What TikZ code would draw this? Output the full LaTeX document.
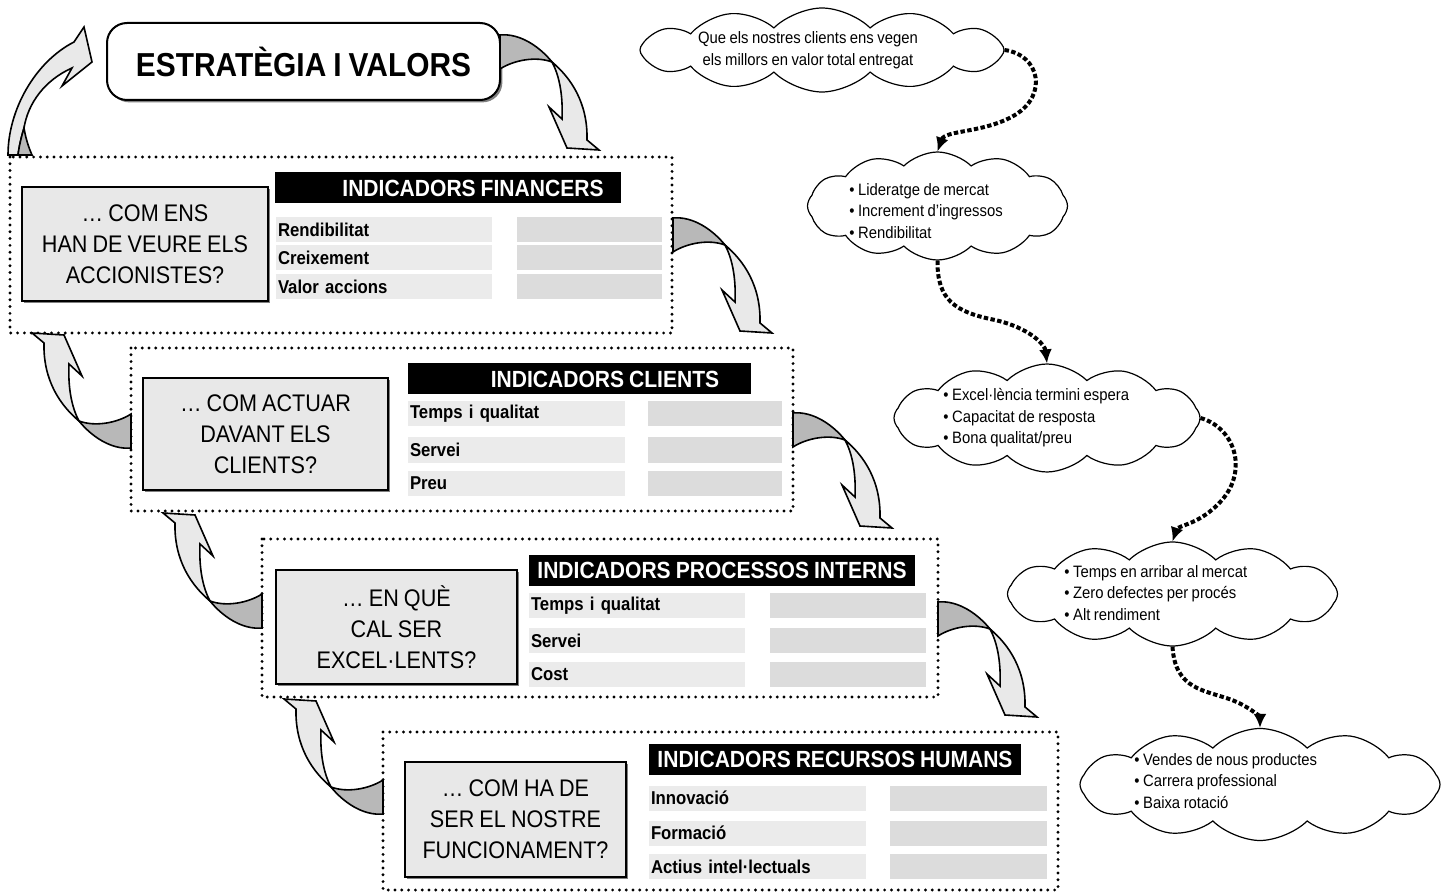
\documentclass[tikz,border=0pt]{standalone}
\usepackage{fontspec}
\setmainfont{Liberation Sans}[FakeStretch=0.9,WordSpace=0.85]
\usepackage{xcolor}
\usepackage{tikz}
\usetikzlibrary{positioning}
\usetikzlibrary{shapes.symbols}
\usetikzlibrary{shadows}
\usetikzlibrary{arrows.meta}

\definecolor{boxgray}{HTML}{E8E8E8}
\definecolor{cellgray}{HTML}{EBEBEB}
\definecolor{valgray}{HTML}{DCDCDC}
\definecolor{bandlight}{HTML}{E9E9E9}
\definecolor{banddark}{HTML}{B8B8B8}

\begin{document}
\begin{tikzpicture}[x=0.5pt,y=-0.5pt,
    dotframe/.style={draw,line width=1.6pt,line cap=round,dash pattern=on 0pt off 3.4pt},
    titlebox/.style={draw,line width=1pt,rounded corners=10pt,fill=white,
        minimum width=196.5pt,minimum height=38.5pt,inner sep=0pt,
        drop shadow={shadow xshift=1.2pt,shadow yshift=-1.2pt,opacity=1},
        font=\fontsize{16.6}{20}\selectfont\bfseries},
    qbox/.style={draw,line width=0.9pt,fill=boxgray,inner sep=0pt,align=center,
        drop shadow={shadow xshift=0.8pt,shadow yshift=-0.8pt,opacity=1},
        font=\fontsize{12}{15.5}\selectfont},
    headbox/.style={fill=black,minimum height=15.5pt,inner sep=0pt},
    headtext/.style={text=white,inner sep=0pt,font=\fontsize{11.7}{14}\selectfont\bfseries},
    labelcell/.style={fill=cellgray,text width=#1,inner xsep=1pt,inner ysep=0pt,
        minimum height=12.5pt,align=left,font=\fontsize{9.3}{11}\selectfont\bfseries},
    valcell/.style={fill=valgray,minimum width=#1,minimum height=12.5pt,inner sep=0pt},
    cloudbox/.style={cloud,draw,line width=0.6pt,fill=white,cloud puffs=12,
        cloud puff arc=90,cloud ignores aspect,inner sep=0pt},
    cloudtext/.style={inner sep=0pt,align=left,font=\fontsize{8.25}{10.75}\selectfont},
    dotarrow/.style={line width=2pt,dash pattern=on 2.2pt off 1.2pt,
        -{Latex[length=7pt,width=6.5pt]}},
    twist/.pic={
        \filldraw[fill=banddark,line width=0.8pt] (0,-17) .. controls (20,-19) and (40,-5) .. (52,10)
            .. controls (36,4) and (14,8) .. (0,17) -- cycle;
        \filldraw[fill=bandlight,line width=0.8pt] (52,10) .. controls (70,25) and (88,50) .. (87,88)
            -- (99,98) -- (67,96) -- (49,55) -- (62,67) .. controls (63,45) and (60,25) .. (52,10) -- cycle;
    }]

    \useasboundingbox (0,0) rectangle (1447,893);

    % panels
    \draw[dotframe] (10,157) rectangle (672,333);
    \draw[dotframe] (131,348) rectangle (793,511);
    \draw[dotframe] (262,539) rectangle (938,697);
    \draw[dotframe] (383,732) rectangle (1058,890);

    \node[titlebox] (title) at (303.5,61.5) {ESTRATÈGIA I VALORS};

    \node[qbox,minimum width=123pt,minimum height=57pt] (q1) at (145,244)
        {… COM ENS\\HAN DE VEURE ELS\\ACCIONISTES?};
    \node[qbox,minimum width=122.5pt,minimum height=56pt] (q2) at (265.5,434)
        {… COM ACTUAR\\DAVANT ELS\\CLIENTS?};
    \node[qbox,minimum width=120.5pt,minimum height=57pt] (q3) at (396.5,627)
        {… EN QUÈ\\CAL SER\\EXCEL·LENTS?};
    \node[qbox,minimum width=110.5pt,minimum height=57.5pt] (q4) at (515.5,819.5)
        {… COM HA DE\\SER EL NOSTRE\\FUNCIONAMENT?};

    \node[headbox,minimum width=173pt] (h1) at (448,187.5) {};
    \node[headtext] (h1t) at (473,188) {INDICADORS FINANCERS};
    \node[headbox,minimum width=171.5pt] (h2) at (579.5,378.5) {};
    \node[headtext] (h2t) at (605,379) {INDICADORS CLIENTS};
    \node[headbox,minimum width=193pt] (h3) at (722,570.5) {};
    \node[headtext] (h3t) at (h3) {INDICADORS PROCESSOS INTERNS};
    \node[headbox,minimum width=186pt] (h4) at (835,759.5) {};
    \node[headtext] (h4t) at (h4) {INDICADORS RECURSOS HUMANS};

    \foreach \txt/\yy [count=\i] in {Rendibilitat/229.5,Creixement/257.5,Valor accions/286.5}{
        \node[labelcell=106pt] (l1-\i) at (384,\yy) {\txt};
        \node[valcell=72.5pt] (v1-\i) at (589.5,\yy) {};
    }
    \foreach \txt/\yy [count=\i] in {Temps i qualitat/414,Servei/450,Preu/483}{
        \node[labelcell=106.5pt] (l2-\i) at (516.5,\yy) {\txt};
        \node[valcell=67pt] (v2-\i) at (715,\yy) {};
    }
    \foreach \txt/\yy [count=\i] in {Temps i qualitat/605.5,Servei/640.5,Cost/674.5}{
        \node[labelcell=106pt] (l3-\i) at (637,\yy) {\txt};
        \node[valcell=78pt] (v3-\i) at (848,\yy) {};
    }
    \foreach \txt/\yy [count=\i] in {Innovació/798,Formació/833,Actius intel·lectuals/866.5}{
        \node[labelcell=106.5pt] (l4-\i) at (757.5,\yy) {\txt};
        \node[valcell=78.5pt] (v4-\i) at (968.5,\yy) {};
    }

    % twisted arrows
    \pic at (500,52) {twist};
    \pic at (673,235) {twist};
    \pic at (793,430) {twist};
    \pic at (938,619) {twist};
    \pic[rotate=180] at (131,431) {twist};
    \pic[rotate=180] at (262,611) {twist};
    \pic[rotate=180] at (383,797) {twist};

    \filldraw[fill=bandlight,line width=0.8pt] (8,155) .. controls (8,110) and (35,62) .. (74,42)
        -- (84,27) -- (92,62) -- (62,86) -- (72,68) .. controls (45,80) and (28,103) .. (24,128)
        .. controls (21,138) and (19,147) .. (18,155) -- cycle;
    \filldraw[fill=banddark,line width=0.8pt] (24,128) .. controls (26,140) and (29,148) .. (32,155)
        -- (18,155) .. controls (19,147) and (21,138) .. (24,128) -- cycle;

    % clouds
    \node[cloudbox,minimum width=182pt,minimum height=42pt] (c1) at (822,50) {};
    \node[cloudbox,minimum width=130pt,minimum height=54pt] (c2) at (937.5,206) {};
    \node[cloudbox,minimum width=153pt,minimum height=54pt] (c3) at (1047,418) {};
    \node[cloudbox,minimum width=165pt,minimum height=52pt] (c4) at (1172.5,594) {};
    \node[cloudbox,minimum width=180pt,minimum height=56pt] (c5) at (1260,784.5) {};

    \node[cloudtext,align=center] (t1) at (808,50)
        {Que els nostres clients ens vegen\\els millors en valor total entregat};
    \node[cloudtext,anchor=west] (t2) at (849,211)
        {• Lideratge de mercat\\• Increment d’ingressos\\• Rendibilitat};
    \node[cloudtext,anchor=west] (t3) at (943,418)
        {• Excel·lència termini espera\\• Capacitat de resposta\\• Bona qualitat/preu};
    \node[cloudtext,anchor=west] (t4) at (1064,593)
        {• Temps en arribar al mercat\\• Zero defectes per procés\\• Alt rendiment};
    \node[cloudtext,anchor=west] (t5) at (1134,781)
        {• Vendes de nous productes\\• Carrera professional\\• Baixa rotació};

    \draw[dotarrow] (c1.east) .. controls (1040,55) and (1048,95) .. (1015,115)
        .. controls (985,133) and (945,130) .. (c2.north);
    \draw[dotarrow] (c2.south) .. controls (937,300) and (955,312) .. (995,320)
        .. controls (1030,328) and (1045,345) .. (c3.north);
    \draw[dotarrow] (c3.east) .. controls (1235,428) and (1248,470) .. (1222,500)
        .. controls (1200,525) and (1178,525) .. (c4.north);
    \draw[dotarrow] (c4.south) .. controls (1175,690) and (1205,690) .. (1232,700)
        .. controls (1252,708) and (1260,718) .. (c5.north);
\end{tikzpicture}
\end{document}
